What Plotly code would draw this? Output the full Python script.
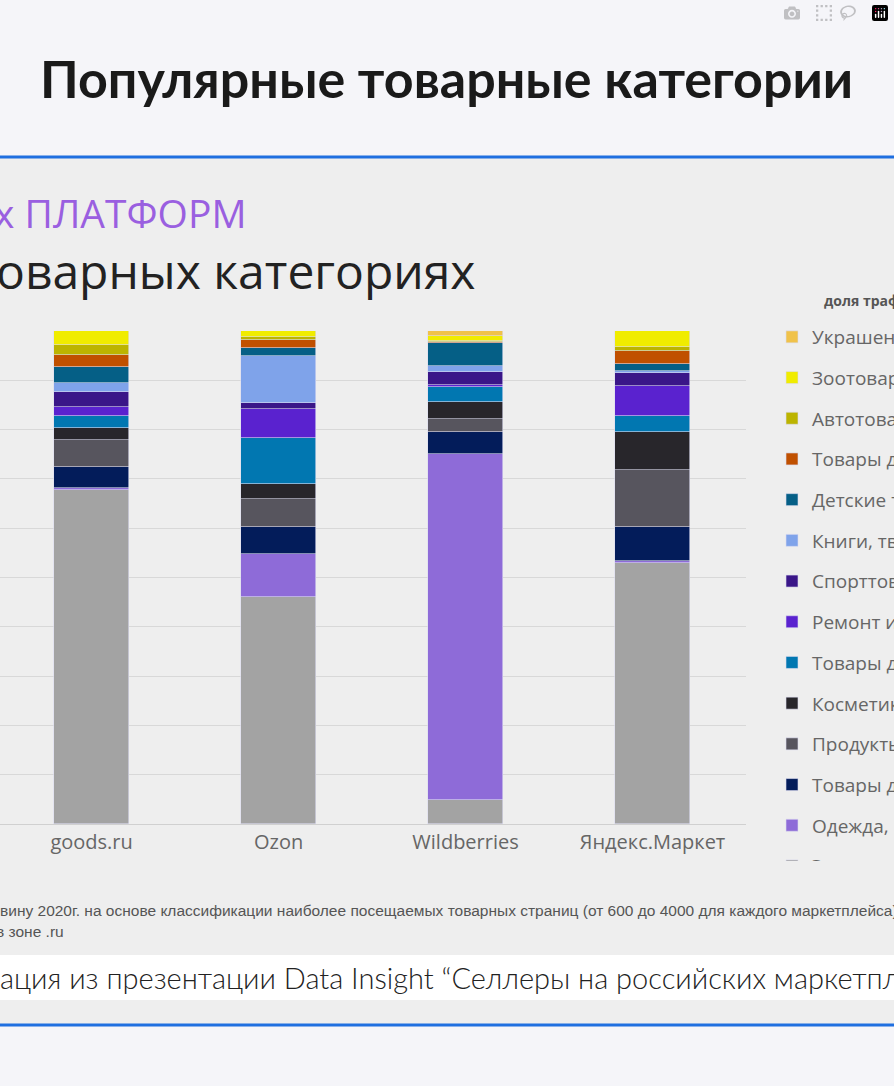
import plotly.graph_objects as go

platforms = ["goods.ru", "Ozon", "Wildberries", "Яндекс.Маркет"]
# bottom to top
categories = ["Электроника", "Одежда, обувь", "Товары для дома", "Продукты", "Косметика",
              "Товары для детей", "Ремонт и строительство", "Спорттовары", "Книги, творчество",
              "Детские товары", "Товары для дачи", "Автотовары", "Зоотовары", "Украшения"]
colors = ["#a3a3a3", "#8e6bd8", "#031c5a", "#57555e", "#28262b", "#0177b1", "#5a22cf",
          "#3a1688", "#7fa3ea", "#055f86", "#c05000", "#bcb400", "#f0ec00", "#f0c24a"]
values = {
    "Электроника":            [67.7, 46.0, 4.9, 52.9],
    "Одежда, обувь":          [0.5, 8.7, 70.2, 0.5],
    "Товары для дома":        [4.3, 5.5, 4.5, 6.9],
    "Продукты":               [5.3, 5.7, 2.6, 11.6],
    "Косметика":              [2.6, 3.0, 3.4, 7.7],
    "Товары для детей":       [2.4, 9.3, 3.0, 3.2],
    "Ремонт и строительство": [1.8, 5.9, 0.4, 6.1],
    "Спорттовары":            [3.0, 1.2, 2.6, 2.6],
    "Книги, творчество":      [1.8, 9.7, 1.4, 0.4],
    "Детские товары":         [3.3, 1.6, 4.5, 1.4],
    "Товары для дачи":        [2.4, 1.6, 0.2, 2.6],
    "Автотовары":             [2.0, 0.5, 0.2, 0.8],
    "Зоотовары":              [2.8, 1.2, 1.0, 3.2],
    "Украшения":              [0.0, 0.0, 1.2, 0.0],
}

fig = go.Figure()
n = len(categories)
for i, (c, col) in enumerate(zip(categories, colors)):
    fig.add_trace(go.Bar(x=platforms, y=values[c], name=c, marker_color=col,
                         marker_line_width=0.6, marker_line_color="#dcdcf0",
                         width=0.4, legendgroup=c, legendrank=n - i))

def py(p):  # pixel y -> paper
    return (824 - p) / 493

def px(p):
    return p / 746

shapes = [
    dict(type="rect", xref="paper", yref="paper", x0=-0.1, x1=1.3, y0=py(1025), y1=py(157),
         fillcolor="#eeeeee", line_width=0, layer="below"),
    dict(type="rect", xref="paper", yref="paper", x0=-0.1, x1=1.3, y0=py(1000), y1=py(955),
         fillcolor="#ffffff", line_width=0, layer="below"),
    dict(type="line", xref="paper", yref="paper", x0=-0.1, x1=1.3, y0=py(157), y1=py(157),
         line=dict(color="#1f6fe0", width=3)),
    dict(type="line", xref="paper", yref="paper", x0=-0.1, x1=1.3, y0=py(1025), y1=py(1025),
         line=dict(color="#1f6fe0", width=3)),
]

ann = [
    dict(text="<b>Популярные товарные категории</b>", x=px(447), y=py(78), font=dict(size=52, color="#1a1a1a", family="Lato")),
    dict(text="х ПЛАТФОРМ", x=px(-8), y=py(212), xanchor="left", font=dict(size=39, color="#9a5fe0", family="Open Sans")),
    dict(text="оварных категориях", x=px(-6), y=py(270), xanchor="left", font=dict(size=48, color="#222222", family="Open Sans")),
    dict(text="<b>доля трафика</b>", x=px(822), y=py(300), xanchor="left", font=dict(size=14, color="#555555", family="Open Sans")),
    dict(text="вину 2020г. на основе классификации наиболее посещаемых товарных страниц (от 600 до 4000 для каждого маркетплейса)",
         x=px(-2), y=py(910), xanchor="left", font=dict(size=15.5, color="#555555", family="Liberation Sans Narrow, Liberation Sans")),
    dict(text="в зоне .ru", x=px(-6), y=py(931), xanchor="left", font=dict(size=15.5, color="#555555", family="Liberation Sans Narrow, Liberation Sans")),
    dict(text="ация из презентации Data Insight “Селлеры на российских маркетплейсах”", x=px(-2), y=py(977), xanchor="left",
         font=dict(size=29, color="#222222", family="Lato Light, Lato")),
]
for a in ann:
    a.update(xref="paper", yref="paper", showarrow=False, yanchor="middle")
    a.setdefault("xanchor", "center")

fig.update_layout(
    width=894, height=1086,
    margin=dict(l=0, r=148, t=331, b=262, autoexpand=False),
    barmode="stack",
    paper_bgcolor="#f5f5f9", plot_bgcolor="rgba(0,0,0,0)",
    shapes=shapes, annotations=ann,
    showlegend=True,
    legend=dict(x=px(772), y=py(318), xanchor="left", yanchor="top", traceorder="grouped",
                tracegroupgap=13, font=dict(size=19, color="#666666", family="Open Sans"),
                bgcolor="rgba(0,0,0,0)", itemwidth=30),
    xaxis=dict(range=[-0.49, 3.5], tickfont=dict(size=20, color="#666666", family="Open Sans"),
               showline=True, linecolor="#d0d0d0", ticks="", fixedrange=True),
    yaxis=dict(range=[0, 100], dtick=10, showgrid=True, gridcolor="#d8d8d8", showticklabels=False,
               zeroline=False, fixedrange=True),
    bargap=0,
)
fig.write_html("out.html", post_script="document.body.style.margin='0';document.body.style.overflow='hidden';")
